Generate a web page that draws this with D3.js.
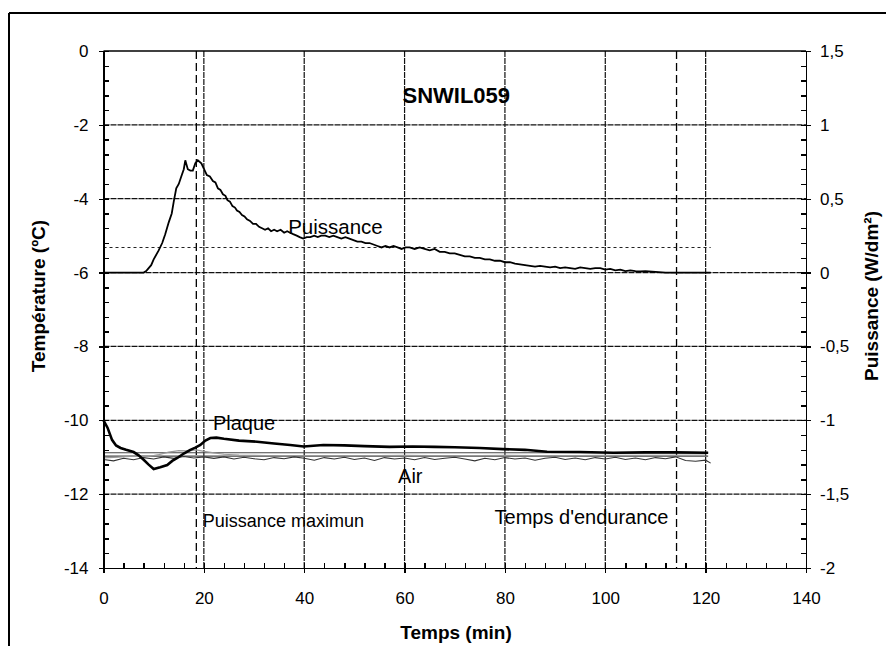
<!DOCTYPE html>
<meta charset="utf-8">
<head>
<style>
body { margin: 0; background: #fff; }
svg { display: block; }
.axis text { font: 17px Arial, "Liberation Sans", sans-serif; fill: #000; }
.axis path, .axis line { stroke: #000; stroke-width: 1.4; shape-rendering: crispEdges; }
.lbl { font-family: Arial, "Liberation Sans", sans-serif; fill: #000; }
</style>
<script src="https://d3js.org/d3.v7.min.js"></script>
</head>
<body>
<svg id="chart" width="886" height="646"></svg>
<script>

// time ticks and temperature / power ticks
var timeTicks = [0, 20, 40, 60, 80, 100, 120, 140];
var tempTicks = [0, -2, -4, -6, -8, -10, -12, -14];
var powerTicks = [1.5, 1, 0.5, 0, -0.5, -1, -1.5, -2];

// Puissance (W/dm2) : [time, power]
var powerPts = [
  [0, 0], [4, 0], [8, 0], [8.5, 0.01], [9.5, 0.05], [10, 0.09], [11, 0.15], [11.7, 0.2], [12.3, 0.26], [13, 0.34],
  [13.6, 0.4], [14, 0.48], [14.5, 0.57], [15, 0.6], [15.5, 0.65], [16, 0.7], [16.3, 0.76], [16.8, 0.7], [17.3, 0.69], [17.8, 0.69],
  [18.3, 0.74], [18.8, 0.76], [19.5, 0.74], [20.6, 0.66], [21.2, 0.65], [21.8, 0.62], [22.3, 0.61], [22.8, 0.57], [23.3, 0.56], [23.8, 0.53],
  [24.3, 0.52], [24.7, 0.49], [25.2, 0.48], [25.7, 0.45], [26.2, 0.44], [26.6, 0.42], [27.1, 0.41], [27.6, 0.39], [28.1, 0.38], [28.6, 0.36],
  [29.2, 0.35], [29.8, 0.33], [30.4, 0.33], [31, 0.31], [31.6, 0.3], [32.2, 0.29], [32.8, 0.3], [33.4, 0.28], [34, 0.29], [34.6, 0.28],
  [35.3, 0.29], [36, 0.27], [36.6, 0.28], [37.2, 0.27], [37.8, 0.26], [38.5, 0.25], [39.1, 0.24], [39.8, 0.23], [40.5, 0.24], [41.2, 0.24],
  [42, 0.25], [42.7, 0.24], [43.4, 0.25], [44.2, 0.25], [45, 0.24], [45.8, 0.25], [46.6, 0.24], [47.4, 0.23], [48.2, 0.24], [49, 0.23],
  [49.8, 0.22], [50.6, 0.21], [51.4, 0.21], [52.2, 0.2], [53, 0.2], [53.8, 0.19], [54.6, 0.18], [55.4, 0.17], [56.2, 0.18], [57, 0.17],
  [57.8, 0.18], [58.6, 0.17], [59.4, 0.16], [60.2, 0.17], [61, 0.17], [62, 0.16], [63, 0.17], [64, 0.16], [65, 0.15], [66, 0.16],
  [67, 0.14], [68, 0.14], [69, 0.13], [70, 0.13], [71, 0.12], [72, 0.11], [73, 0.11], [74, 0.1], [75, 0.1], [76, 0.09],
  [77, 0.09], [78, 0.08], [79, 0.08], [80, 0.07], [81, 0.07], [82, 0.06], [83, 0.055], [84, 0.05], [85, 0.045], [86, 0.04],
  [87, 0.045], [88, 0.04], [89, 0.035], [90, 0.04], [91, 0.03], [92, 0.035], [93, 0.03], [94, 0.025], [95, 0.035], [96, 0.03],
  [97, 0.025], [98, 0.03], [99, 0.03], [100, 0.02], [101, 0.025], [102, 0.015], [103, 0.02], [104, 0.01], [105, 0.015], [106, 0.01],
  [107, 0.008], [108, 0.01], [110, 0.005], [112, 0], [121, 0]
];

// Plaque temperature
var plaqueT = [0, 0.8, 1.7, 2.5, 3.4, 4.5, 6, 7, 8, 9, 10, 11.3, 12.7, 13.7, 14.7, 16, 17.3, 18.3, 19.3, 20.3,
  21.3, 22.5, 24, 27, 30.6, 34, 37.2, 39.9, 43.8, 48, 52, 57, 61.6, 66, 70, 75, 79.6, 84, 88.4, 95,
  101.6, 108, 114, 120.5];
var plaqueV = [-10.0, -10.2, -10.53, -10.68, -10.75, -10.8, -10.86, -10.95, -11.07, -11.2, -11.32, -11.27, -11.21, -11.1, -11.02, -10.9, -10.8, -10.74, -10.67, -10.55,
  -10.48, -10.47, -10.5, -10.55, -10.58, -10.63, -10.67, -10.71, -10.67, -10.68, -10.7, -10.72, -10.71, -10.72, -10.73, -10.75, -10.78, -10.8, -10.85, -10.86,
  -10.88, -10.87, -10.87, -10.88];

// Air temperature
var airT = [0, 2, 4, 6, 8, 10, 12, 14, 16, 18, 20, 22, 24, 26, 28, 30, 32, 34, 36, 38, 40, 42, 44, 46, 48, 50, 52, 54, 56, 58,
  60, 62, 64, 66, 68, 70, 72, 74, 76, 78, 80, 82, 84, 86, 88, 90, 92, 94, 96, 98, 100, 102, 104, 106, 108, 110, 112, 114, 116, 118, 120, 121];
var airV = [-11.06, -11.1, -11.03, -11.07, -11.01, -11.05, -10.99, -11.03, -10.98, -11.02, -10.99, -11.03, -10.99, -11.05, -11.0, -11.04, -11.07, -11.01, -11.04, -10.99,
  -11.03, -11.08, -11.01, -11.05, -11.0, -11.06, -11.02, -11.09, -11.01, -11.05, -11.02, -11.07, -11.01, -11.06, -11.03, -11.0, -11.05, -11.1, -11.03, -11.07,
  -11.01, -11.05, -11.02, -11.08, -11.03, -11.0, -11.06, -11.02, -11.07, -11.01, -11.05, -11.0, -11.06, -11.02, -11.07, -11.01, -11.04, -10.99, -11.09, -11.11,
  -11.08, -11.16];

// second ambient sensor (grey)
var ambT = [0, 3, 6, 9, 11, 13, 15, 17, 18.5, 20, 22, 24, 27, 30, 35, 40, 50, 60, 70, 80, 90, 100, 110, 120];
var ambV = [-11.02, -11.0, -10.97, -10.98, -10.93, -10.86, -10.82, -10.83, -10.8, -10.84, -10.88, -10.92, -10.94, -10.95, -10.96, -10.96, -10.96, -10.95, -10.96, -10.95, -10.96, -10.95, -10.95, -10.94];

var refLevels = [-10.88, -10.97];   // straight reference lines
var powerLevel = 0.17;              // dotted power threshold
var markTimes = [18.5, 114.2];      // dashed markers

var svg = d3.select("#chart");

var x = d3.scaleLinear().domain([0, 140]).range([103.5, 806]);
var y = d3.scaleLinear().domain([-14, 0]).range([568, 51]);
var yp = d3.scaleLinear().domain([-2, 1.5]).range([568, 51]);

// outer frame (only top and left visible)
svg.append("line").attr("x1", 9).attr("x2", 886).attr("y1", 13).attr("y2", 13)
  .attr("stroke", "#000").attr("stroke-width", 2);
svg.append("line").attr("x1", 9).attr("x2", 9).attr("y1", 13).attr("y2", 646)
  .attr("stroke", "#000").attr("stroke-width", 2);

// grid
var g = svg.append("g");
g.selectAll(".vg").data(timeTicks.filter(function(d){ return d > 0 && d < 140; }))
  .enter().append("line")
  .attr("x1", function(d){ return x(d); }).attr("x2", function(d){ return x(d); })
  .attr("y1", y(0)).attr("y2", y(-14))
  .attr("stroke", "#111").attr("stroke-width", 1.2).attr("stroke-dasharray", "6,1");
g.selectAll(".hg").data(tempTicks.filter(function(d){ return d < 0 && d > -14; }))
  .enter().append("line")
  .attr("x1", x(0)).attr("x2", x(140))
  .attr("y1", function(d){ return y(d); }).attr("y2", function(d){ return y(d); })
  .attr("stroke", "#111").attr("stroke-width", 1.2).attr("stroke-dasharray", "6,1");
g.append("line").attr("x1", x(0)).attr("x2", x(140)).attr("y1", y(0)).attr("y2", y(0))
  .attr("stroke", "#000").attr("stroke-width", 1.6);

// dashed markers
g.selectAll(".mk").data(markTimes).enter().append("line")
  .attr("x1", function(d){ return x(d); }).attr("x2", function(d){ return x(d); })
  .attr("y1", y(0)).attr("y2", y(-14))
  .attr("stroke", "#000").attr("stroke-width", 1.3).attr("stroke-dasharray", "8,4");

// power threshold
g.append("line").attr("x1", x(0)).attr("x2", x(121))
  .attr("y1", yp(powerLevel)).attr("y2", yp(powerLevel))
  .attr("stroke", "#222").attr("stroke-width", 1.1).attr("stroke-dasharray", "3,3");

// reference lines
g.selectAll(".ref").data(refLevels).enter().append("line")
  .attr("x1", x(0)).attr("x2", x(120.5))
  .attr("y1", function(d){ return y(d); }).attr("y2", function(d){ return y(d); })
  .attr("stroke", "#444").attr("stroke-width", 1.1);

function series(ts, vs, sy) {
  return d3.line().x(function(d, i){ return x(ts[i]); }).y(function(d){ return sy(d); })(vs);
}

g.append("path").attr("d", series(ambT, ambV, y))
  .attr("fill", "none").attr("stroke", "#999").attr("stroke-width", 1.2);
g.append("path").attr("d", series(airT, airV, y))
  .attr("fill", "none").attr("stroke", "#333").attr("stroke-width", 1.1);
g.append("path").attr("d", series(plaqueT, plaqueV, y))
  .attr("fill", "none").attr("stroke", "#000").attr("stroke-width", 2.6);
g.append("path")
  .attr("d", d3.line().x(function(d){ return x(d[0]); }).y(function(d){ return yp(d[1]); })(powerPts))
  .attr("fill", "none").attr("stroke", "#000").attr("stroke-width", 1.8);

// axes: major ticks outward, minor inward
var fmtC = function(d){ return String(d).replace(".", ","); };

svg.append("g").attr("class", "axis").attr("transform", "translate(" + x(0) + ",0)")
  .call(d3.axisLeft(y).tickValues(tempTicks).tickSize(5).tickPadding(10).tickFormat(fmtC));
svg.append("g").attr("class", "axis").attr("transform", "translate(" + x(0) + ",0)")
  .call(d3.axisLeft(y).tickValues(d3.range(0, -14.01, -0.4)).tickSize(-5).tickFormat(""))
  .select(".domain").remove();

svg.append("g").attr("class", "axis").attr("transform", "translate(" + x(140) + ",0)")
  .call(d3.axisRight(yp).tickValues(powerTicks).tickSize(5).tickPadding(9).tickFormat(fmtC));
svg.append("g").attr("class", "axis").attr("transform", "translate(" + x(140) + ",0)")
  .call(d3.axisRight(yp).tickValues(d3.range(-2, 1.51, 0.1)).tickSize(-5).tickFormat(""))
  .select(".domain").remove();

svg.append("g").attr("class", "axis").attr("transform", "translate(0," + y(-14) + ")")
  .call(d3.axisBottom(x).tickValues(timeTicks).tickSize(5).tickPadding(19));
svg.append("g").attr("class", "axis").attr("transform", "translate(0," + y(-14) + ")")
  .call(d3.axisBottom(x).tickValues(d3.range(0, 140.1, 4)).tickSize(-5).tickFormat(""))
  .select(".domain").remove();
svg.selectAll(".axis .domain").attr("stroke-width", 2);

// titles
svg.append("text").attr("class", "lbl").attr("x", 456).attr("y", 632)
  .attr("text-anchor", "middle").attr("dominant-baseline", "central")
  .style("font-size", "19px").style("font-weight", "bold").text("Temps (min)");
svg.append("text").attr("class", "lbl").attr("transform", "translate(38,296) rotate(-90)")
  .attr("text-anchor", "middle").attr("dominant-baseline", "central")
  .style("font-size", "19px").style("font-weight", "bold").text("Température (ºC)");
svg.append("text").attr("class", "lbl").attr("transform", "translate(871,296) rotate(-90)")
  .attr("text-anchor", "middle").attr("dominant-baseline", "central")
  .style("font-size", "19px").style("font-weight", "bold").text("Puissance (W/dm²)");

svg.append("text").attr("class", "lbl").attr("x", x(70.3)).attr("y", y(-1.41))
  .attr("text-anchor", "middle").style("font-size", "22px").style("font-weight", "bold").text("SNWIL059");

// curve annotations
svg.append("text").attr("class", "lbl").attr("x", x(36.8)).attr("y", yp(0.26))
  .style("font-size", "20.5px").text("Puissance");
svg.append("text").attr("class", "lbl").attr("x", x(21.8)).attr("y", y(-10.26))
  .style("font-size", "20px").text("Plaque");
svg.append("text").attr("class", "lbl").attr("x", x(58.7)).attr("y", y(-11.7))
  .style("font-size", "20px").text("Air");
svg.append("text").attr("class", "lbl").attr("x", x(19.8)).attr("y", y(-12.89))
  .style("font-size", "18px").text("Puissance maximun");
svg.append("text").attr("class", "lbl").attr("x", x(112.6)).attr("y", y(-12.82))
  .attr("text-anchor", "end").style("font-size", "20px").text("Temps d'endurance");

</script>
</body>
